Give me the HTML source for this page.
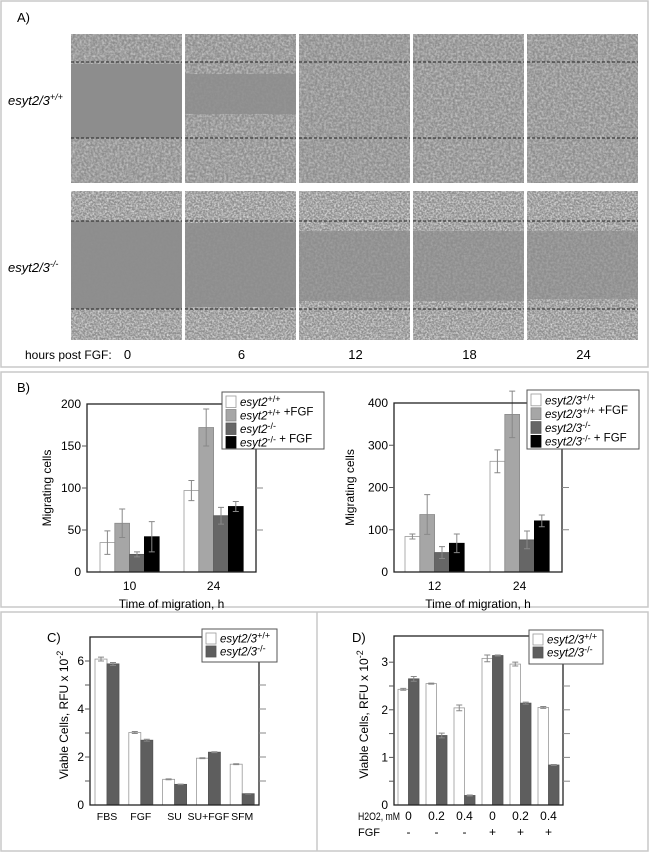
<!DOCTYPE html>
<html><head><meta charset="utf-8">
<style>
html,body{margin:0;padding:0;background:#fff;}
svg{display:block;font-family:"Liberation Sans",sans-serif;}
</style></head>
<body>
<svg id="fig" width="652" height="852" viewBox="0 0 652 852" xmlns="http://www.w3.org/2000/svg">
<defs>
<filter id="noise" x="0" y="0" width="100%" height="100%">
<feTurbulence type="fractalNoise" baseFrequency="0.45" numOctaves="2" seed="3" result="t"/>
<feColorMatrix type="matrix" values="0 0 0 0 0.6  0 0 0 0 0.6  0 0 0 0 0.6  1.6 0 0 0 -0.5" />
</filter>
<filter id="noise2" x="0" y="0" width="100%" height="100%">
<feTurbulence type="fractalNoise" baseFrequency="0.55" numOctaves="2" seed="7"/>
<feColorMatrix type="matrix" values="0 0 0 0 0.78  0 0 0 0 0.78  0 0 0 0 0.78  1.8 0 0 0 -0.6" />
</filter>
</defs>
<rect x="1" y="1" width="647" height="366" fill="none" stroke="#c8c8c8" stroke-width="1.5"/>
<rect x="1" y="372" width="647" height="235" fill="none" stroke="#c8c8c8" stroke-width="1.5"/>
<rect x="1" y="612" width="647" height="239" fill="none" stroke="#c8c8c8" stroke-width="1.5"/>
<line x1="317" y1="612" x2="317" y2="851" stroke="#c8c8c8" stroke-width="1.5"/>

<text x="17" y="22" font-size="13">A)</text>
<text x="8" y="105" font-size="13" font-style="italic">esyt2/3<tspan dy="-5" font-size="9">+/+</tspan></text>
<text x="8" y="272" font-size="13" font-style="italic">esyt2/3<tspan dy="-5" font-size="9">-/-</tspan></text>
<text x="25" y="359" font-size="12">hours post FGF:</text>
<g id="micro"></g>
<g id="hours"></g>

<text x="17" y="392" font-size="13">B)</text>
<text x="47" y="642" font-size="13">C)</text>
<text x="352" y="642" font-size="13">D)</text>
<g id="charts"></g>
</svg>
<script>
// ---------- Panel B left ----------
const bLeftCats = ["10","24"];
const bLeftWT = [35,97], bLeftWTerr = [14,12];
const bLeftWTF = [58,172], bLeftWTFerr = [17,22];
const bLeftKO = [21,67], bLeftKOerr = [3,10];
const bLeftKOF = [42,78], bLeftKOFerr = [18,6];
const bLeftTicks = [0,50,100,150,200];
// ---------- Panel B right ----------
const bRightCats = ["12","24"];
const bRightWT = [84,262], bRightWTerr = [6,27];
const bRightWTF = [136,373], bRightWTFerr = [47,55];
const bRightKO = [46,76], bRightKOerr = [14,21];
const bRightKOF = [68,121], bRightKOFerr = [22,14];
const bRightTicks = [0,100,200,300,400];
// ---------- Panel C ----------
const cCats = ["FBS","FGF","SU","SU+FGF","SFM"];
const cWT = [6.08,3.02,1.07,1.95,1.70], cWTerr = [0.08,0.04,0.02,0.02,0.02];
const cKO = [5.88,2.70,0.86,2.20,0.47], cKOerr = [0.06,0.04,0.01,0.02,0.01];
const cTicks = [0,2,4,6];
// ---------- Panel D ----------
const dH2O2 = ["0","0.2","0.4","0","0.2","0.4"];
const dFGF = ["-","-","-","+","+","+"];
const dWT = [2.43,2.55,2.04,3.08,2.96,2.05], dWTerr = [0.02,0.01,0.06,0.07,0.04,0.02];
const dKO = [2.65,1.46,0.20,3.14,2.14,0.84], dKOerr = [0.05,0.05,0.01,0.01,0.02,0.01];
const dTicks = [0,1,2,3];
const hourLabels = ["0","6","12","18","24"];

const NS = "http://www.w3.org/2000/svg";
const charts = document.getElementById('charts');
function mk(tag, attrs, parent){
  const e = document.createElementNS(NS, tag);
  for (const k in attrs) e.setAttribute(k, attrs[k]);
  (parent||charts).appendChild(e);
  return e;
}

const micro = document.getElementById('micro');
const colX = [71,185,299,413,527], rowY = [34,191], W = 111, H = 149;
const cover = [
  [[30,104,0],[40,80,0.15],[0,149,0.9],[0,149,1],[0,149,1]],
  [[30,118,0.05],[32,116,0.15],[40,110,0.35],[40,110,0.4],[40,108,0.45]]
];
for (let r=0;r<2;r++){
  for (let c=0;c<5;c++){
    const x=colX[c], y=rowY[r];
    const g = mk('g',{},micro);
    
    
    mk('rect',{x:x,y:y,width:W,height:H,fill:'#8d8d8d'},g);
    const cv = cover[r][c];
    const f = r===0 ? 'url(#noise)' : 'url(#noise2)';
    const cid='cp'+r+c;
    const cp = mk('clipPath',{id:cid},g);
    mk('rect',{x:x,y:y,width:W,height:cv[0]},cp);
    mk('rect',{x:x,y:y+cv[1],width:W,height:H-cv[1]},cp);
    mk('rect',{x:x,y:y,width:W,height:H,fill:'#8d8d8d',filter:f,'clip-path':'url(#'+cid+')'},g);
    if (cv[2]>0) mk('rect',{x:x,y:y+cv[0],width:W,height:cv[1]-cv[0],fill:'#8d8d8d',filter:'url(#noise)',opacity:cv[2]},g);
    const d1 = r===0?28:30, d2 = r===0?104:118;
    mk('line',{x1:x,y1:y+d1,x2:x+W,y2:y+d1,stroke:'#222','stroke-width':1,'stroke-dasharray':'3,2'},g);
    mk('line',{x1:x,y1:y+d2,x2:x+W,y2:y+d2,stroke:'#222','stroke-width':1,'stroke-dasharray':'3,2'},g);
  }
}
const hours = document.getElementById('hours');
hourLabels.forEach((h,i)=>{
  const t = mk('text',{x:colX[i]+W/2+1,y:359,'font-size':13,'text-anchor':'middle'},hours);
  t.textContent = h;
  
  
});

function chart(o){
  const g = mk('g',{});
  
  
  const yS = v => o.y0 - (v/o.ymax)*(o.y0-o.yTop);
  o.series.forEach((s,si)=>{
    s.vals.forEach((v,ci)=>{
      const bx = o.gx(ci) + si*o.bw;
      const b = mk('rect',{x:bx,y:yS(v),width:o.bw,height:o.y0-yS(v),fill:s.fill,stroke:s.stroke,'stroke-width':0.8},g);
      
      
      const e = s.err[ci], cx = bx+o.bw/2;
      const eb = mk('path',{d:`M${cx},${yS(v+e)}V${yS(v-e)}M${cx-3},${yS(v+e)}H${cx+3}M${cx-3},${yS(v-e)}H${cx+3}`,stroke:'#888','stroke-width':1,fill:'none'},g);
      
      
    });
  });
  const fr = mk('rect',{x:o.xL,y:o.yTop,width:o.xR-o.xL,height:o.y0-o.yTop,fill:'none',stroke:'#222','stroke-width':1.3},g);
  
  
  o.rTicks.forEach(v=>{
    mk('line',{x1:o.xR,y1:yS(v),x2:o.xR+7,y2:yS(v),stroke:'#888','stroke-width':1},g);
    mk('line',{x1:o.xL-5,y1:yS(v),x2:o.xL,y2:yS(v),stroke:'#555','stroke-width':1},g);
  });
  o.ticks.forEach(v=>{
    const t = mk('text',{x:o.xL-6,y:yS(v)+4,'font-size':12,'text-anchor':'end'},g);
    t.textContent = v;
    
    
  });
  o.cats.forEach((c,ci)=>{
    const t = mk('text',{x:o.gx(ci)+o.series.length*o.bw/2,y:o.catY,'font-size':o.catFs||12,'text-anchor':'middle'},g);
    t.textContent = c;
    
    
  });
  const cy = (o.yTop+o.y0)/2+(o.ytDy||0);
  const yt = mk('text',{x:o.ytX,y:cy,'font-size':12,'text-anchor':'middle',transform:`rotate(-90 ${o.ytX} ${cy})`},g);
  yt.innerHTML = o.ytitle;
  
  
  if (o.xtitle){
    const xt = mk('text',{x:(o.xL+o.xR)/2,y:o.catY+18,'font-size':12,'text-anchor':'middle'},g);
    xt.textContent = o.xtitle;
    
    
  }
  const L = o.legend;
  const lg = mk('g',{},g);
  
  
  mk('rect',{x:L.x,y:L.y,width:L.w,height:L.h,fill:'#fff',stroke:'#555','stroke-width':1},lg);
  o.series.forEach((s,si)=>{
    const yy = L.y+4+si*L.step;
    const sw = mk('rect',{x:L.x+4,y:yy,width:10,height:L.step-2,fill:s.fill,stroke:s.stroke,'stroke-width':0.8},lg);
    
    
    const t = mk('text',{x:L.x+18,y:yy+L.step-3.5,'font-size':11.5},lg);
    t.innerHTML = s.label;
    
    
  });
  return {g,yS};
}
const sup = s => `<tspan dy="-4" font-size="9">${s}</tspan><tspan dy="4"></tspan>`;
const it = s => `<tspan font-style="italic">${s}</tspan>`;

chart({name:'chart-b-left', xL:87,xR:256,yTop:404,y0:572,ymax:200,bw:14.8,
  gx:i=>[100,184][i], cats:bLeftCats, catY:590, ticks:bLeftTicks, rTicks:[50,100,150],
  ytX:51, ytitle:'Migrating cells', xtitle:'Time of migration, h',
  series:[
    {key:'wt',vals:bLeftWT,err:bLeftWTerr,fill:'#fff',stroke:'#999',label:it('esyt2')+sup('+/+')},
    {key:'wt-fgf',vals:bLeftWTF,err:bLeftWTFerr,fill:'#a6a6a6',stroke:'#8a8a8a',label:it('esyt2')+sup('+/+')+' +FGF'},
    {key:'ko',vals:bLeftKO,err:bLeftKOerr,fill:'#666',stroke:'#555',label:it('esyt2')+sup('-/-')},
    {key:'ko-fgf',vals:bLeftKOF,err:bLeftKOFerr,fill:'#000',stroke:'#000',label:it('esyt2')+sup('-/-')+' + FGF'}],
  legend:{x:222,y:392,w:102,h:57,step:13.5}});

chart({name:'chart-b-right', xL:394,xR:562,yTop:403,y0:572,ymax:400,bw:14.8,
  gx:i=>[405,490][i], cats:bRightCats, catY:590, ticks:bRightTicks, rTicks:[100,200,300],
  ytX:354, ytitle:'Migrating cells', xtitle:'Time of migration, h',
  series:[
    {key:'wt',vals:bRightWT,err:bRightWTerr,fill:'#fff',stroke:'#999',label:it('esyt2/3')+sup('+/+')},
    {key:'wt-fgf',vals:bRightWTF,err:bRightWTFerr,fill:'#a6a6a6',stroke:'#8a8a8a',label:it('esyt2/3')+sup('+/+')+' +FGF'},
    {key:'ko',vals:bRightKO,err:bRightKOerr,fill:'#666',stroke:'#555',label:it('esyt2/3')+sup('-/-')},
    {key:'ko-fgf',vals:bRightKOF,err:bRightKOFerr,fill:'#000',stroke:'#000',label:it('esyt2/3')+sup('-/-')+' + FGF'}],
  legend:{x:527,y:390,w:112,h:59,step:13.8}});

chart({name:'chart-c', xL:90,xR:259,yTop:637,y0:805,ymax:7,bw:12,
  gx:i=>95+i*33.8, cats:cCats, catY:820, catFs:10.5, ticks:cTicks, rTicks:[1,2,3,4,5,6],
  ytX:68, ytDy:-6, ytitle:'Viable Cells, RFU x 10'+'<tspan dy="-5" font-size="9">-2</tspan>',
  series:[
    {key:'wt',vals:cWT,err:cWTerr,fill:'#fff',stroke:'#999',label:it('esyt2/3')+sup('+/+')},
    {key:'ko',vals:cKO,err:cKOerr,fill:'#5e5e5e',stroke:'#555',label:it('esyt2/3')+sup('-/-')}],
  legend:{x:202,y:629,w:75,h:33,step:13}});

chart({name:'chart-d', xL:394,xR:563,yTop:636,y0:805,ymax:3.55,bw:10.5,
  gx:i=>398+i*28, cats:dH2O2, catY:820, ticks:dTicks, rTicks:[0.5,1,1.5,2,2.5,3],
  ytX:368, ytDy:-6, ytitle:'Viable Cells, RFU x 10'+'<tspan dy="-5" font-size="9">-2</tspan>',
  series:[
    {key:'wt',vals:dWT,err:dWTerr,fill:'#fff',stroke:'#999',label:it('esyt2/3')+sup('+/+')},
    {key:'ko',vals:dKO,err:dKOerr,fill:'#5e5e5e',stroke:'#555',label:it('esyt2/3')+sup('-/-')}],
  legend:{x:529,y:630,w:74,h:34,step:13}});

const h2 = mk('text',{x:358,y:820,'font-size':11,textLength:42,lengthAdjust:'spacingAndGlyphs'});
h2.textContent = 'H2O2, mM';


const fg = mk('text',{x:358,y:836,'font-size':11});
fg.textContent = 'FGF';


dFGF.forEach((s,i)=>{
  const t = mk('text',{x:398+i*28+10.5,y:836,'font-size':12,'text-anchor':'middle'});
  t.textContent = s;
  
  
});
</script>
</body></html>
